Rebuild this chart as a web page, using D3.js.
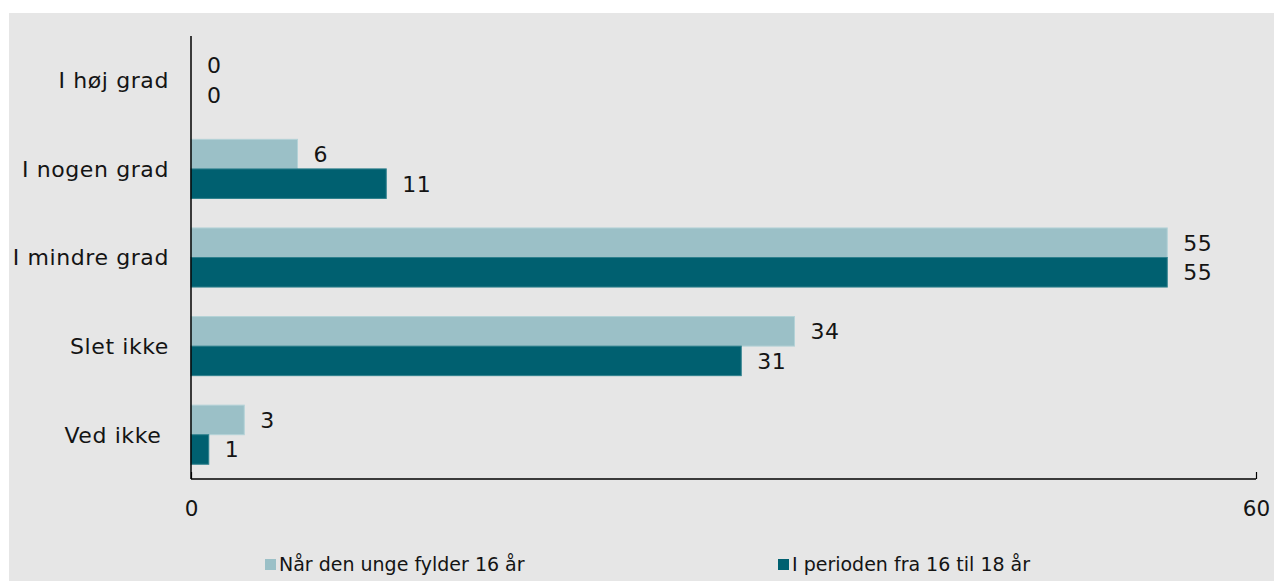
<!DOCTYPE html>
<html>
<head>
<meta charset="utf-8">
<script src="https://cdn.jsdelivr.net/npm/d3@7"></script>
<style>
  html, body { margin: 0; padding: 0; background: #ffffff; }
  svg { display: block; }
  text { font-family: "DejaVu Sans", Verdana, sans-serif; fill: #141414; white-space: pre; }
</style>
</head>
<body>
<svg id="chart" width="1274" height="581"></svg>
<script>
const categories = ["I høj grad", "I nogen grad", "I mindre grad", "Slet ikke", "Ved ikke "];
const seriesNames = ["Når den unge fylder 16 år", "I perioden fra 16 til 18 år"];
const valuesAt16 = [0, 6, 55, 34, 3];
const valuesPeriod = [0, 11, 55, 31, 1];
const xTicks = [0, 60];
const colors = ["#9bc0c7", "#006070"];
const strokes = ["#b4d2d7", "#2f808d"];

const svg = d3.select("#chart");
svg.append("rect").attr("x", 9).attr("y", 13).attr("width", 1274 - 9).attr("height", 581 - 13).attr("fill", "#e6e6e6");

const x = d3.scaleLinear().domain([0, 60]).range([191, 1256]);
const y = d3.scaleBand().domain(categories).range([36, 479]).paddingInner(0.333).paddingOuter(0.1665);
const ySub = d3.scaleBand().domain([0, 1]).range([0, y.bandwidth()]);

const series = [valuesAt16, valuesPeriod];
const rows = categories.map((c, i) => ({ cat: c, vals: series.map(s => s[i]) }));

const g = svg.append("g");
const groups = g.selectAll("g.cat").data(rows).join("g")
  .attr("transform", d => `translate(0,${y(d.cat)})`);

groups.selectAll("rect").data(d => d.vals.map((v, k) => ({ v, k })).filter(e => e.v > 0)).join("rect")
  .attr("x", x(0))
  .attr("y", e => ySub(e.k))
  .attr("width", e => x(e.v) - x(0))
  .attr("height", ySub.bandwidth())
  .attr("fill", e => colors[e.k])
  .attr("stroke", e => strokes[e.k])
  .attr("stroke-width", 1);

groups.selectAll("text.val").data(d => d.vals.map((v, k) => ({ v, k }))).join("text")
  .attr("class", "val")
  .attr("x", e => x(e.v) + 16)
  .attr("y", e => ySub(e.k) + ySub.bandwidth() / 2)
  .attr("dy", "0.36em")
  .attr("font-size", 22)
  .attr("letter-spacing", 0.4)
  .text(e => e.v);

// category labels
g.selectAll("text.cat").data(categories).join("text")
  .attr("class", "cat")
  .attr("x", 169)
  .attr("y", d => y(d) + y.bandwidth() / 2)
  .attr("dy", "0.36em")
  .attr("text-anchor", "end")
  .attr("font-size", 22)
  .attr("letter-spacing", 0.6)
  .text(d => d);

// axes
const xAxis = d3.axisBottom(x).tickValues(xTicks).tickSize(-7).tickFormat(d3.format("d")).tickPadding(22);
const ax = svg.append("g").attr("transform", "translate(0,479)").call(xAxis);
ax.select(".domain").attr("stroke", "#000").attr("stroke-width", 1.5).attr("d", `M${x(0)},0H${x(60)}`);
ax.selectAll(".tick line").attr("stroke", "#000").attr("stroke-width", 1.2);
ax.selectAll(".tick text").attr("font-size", 21.5).attr("font-family", "DejaVu Sans, Verdana, sans-serif").attr("fill", "#141414");

const yAxis = d3.axisLeft(y).tickSize(0).tickFormat("");
const ay = svg.append("g").attr("transform", `translate(${x(0)},0)`).call(yAxis);
ay.select(".domain").attr("stroke", "#000").attr("stroke-width", 1.5).attr("d", "M0,36V479");

// legend
const legendX = [265, 778];
const lg = svg.selectAll("g.leg").data(seriesNames).join("g")
  .attr("class", "leg")
  .attr("transform", (d, i) => `translate(${legendX[i]},559)`);
lg.append("rect").attr("width", 11).attr("height", 11).attr("fill", (d, i) => colors[i]);
lg.append("text").attr("x", 14).attr("y", 12).attr("font-size", 19).text(d => d);
</script>
</body>
</html>
